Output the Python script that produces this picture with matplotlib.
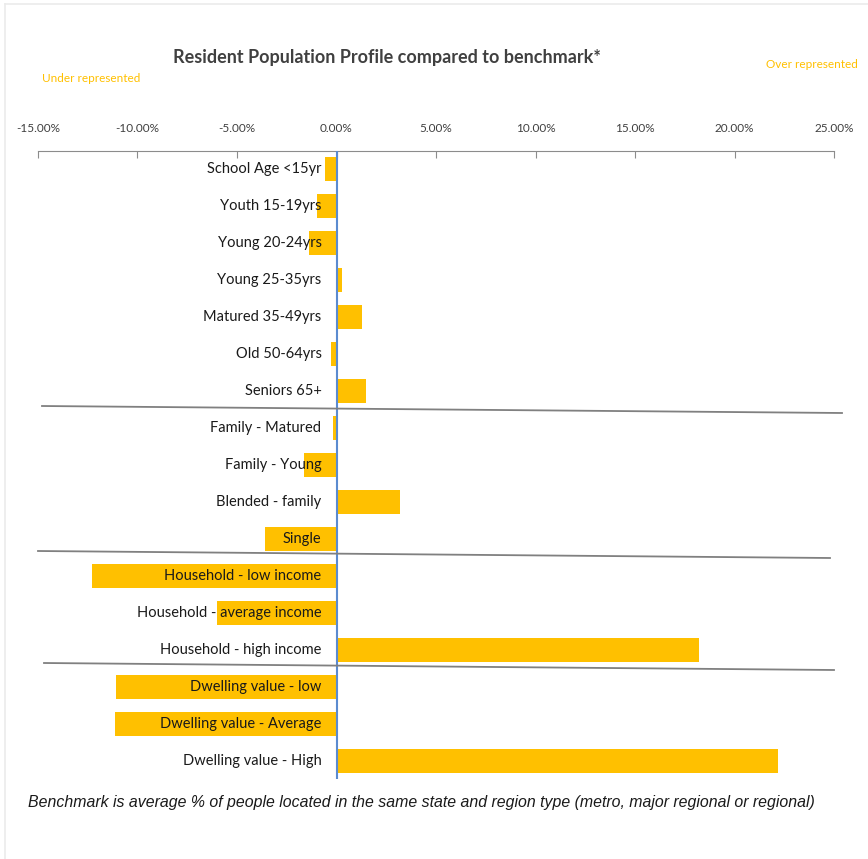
import matplotlib.pyplot as plt
from matplotlib.lines import Line2D
from matplotlib.ticker import FuncFormatter

# data (percent difference vs benchmark)
categories = ["School Age <15yr", "Youth 15-19yrs", "Young 20-24yrs", "Young 25-35yrs",
              "Matured 35-49yrs", "Old 50-64yrs", "Seniors 65+",
              "Family - Matured", "Family - Young", "Blended - family", "Single",
              "Household - low income", "Household - average income", "Household - high income",
              "Dwelling value - low", "Dwelling value - Average", "Dwelling value - High"]
values = [-0.6, -1.0, -1.4, 0.3, 1.3, -0.3, 1.5,
          -0.2, -1.65, 3.2, -3.6,
          -12.3, -6.0, 18.2,
          -11.1, -11.15, 22.2]
xticks = [-15, -10, -5, 0, 5, 10, 15, 20, 25]

plt.rcParams['font.family'] = ['Lato', 'DejaVu Sans']

fig = plt.figure(figsize=(8.68, 8.59), dpi=100)
ax = fig.add_axes([38/868, 1-779/859, 796/868, 628/859])

ypos = list(range(len(categories)))
ax.barh(ypos, values, height=0.65, color='#FFC000', zorder=2)
ax.set_ylim(len(categories)-0.5, -0.5)
ax.set_xlim(-15, 25)

ax.xaxis.tick_top()
ax.set_xticks(xticks)
ax.xaxis.set_major_formatter(FuncFormatter(lambda v, p: f"{v:.2f}%"))
ax.tick_params(axis='x', direction='in', length=5, color='#8c8c8c', pad=12,
               labelsize=8.5, labelcolor='#404040')
ax.set_yticks([])
for s in ['left', 'right', 'bottom']:
    ax.spines[s].set_visible(False)
ax.spines['top'].set_color('#8c8c8c')
ax.axvline(0, color='#5B8BD0', lw=1.5, zorder=3)

for y, name in zip(ypos, categories):
    ax.annotate(name, xy=(0, y), xytext=(-15, 0), textcoords='offset pixels',
                ha='right', va='center', fontsize=10.5, color='#1a1a1a', zorder=4)

# group separators
for (x0, y0, x1, y1) in [(42, 406, 842, 413), (38, 551, 830, 558), (44, 663, 834, 670)]:
    fig.add_artist(Line2D([x0/868, x1/868], [1-y0/859, 1-y1/859],
                          transform=fig.transFigure, color='#808080', lw=1.3))

# faint frame edges (top and left only)
fig.add_artist(Line2D([5/868, 1], [1-4/859, 1-4/859], transform=fig.transFigure,
                      color='#ebebeb', lw=1.2))
fig.add_artist(Line2D([5/868, 5/868], [0, 1-4/859], transform=fig.transFigure,
                      color='#ebebeb', lw=1.2))

fig.text(387/868, 1-57/859, "Resident Population Profile compared to benchmark*",
         ha='center', va='center', fontsize=13, fontweight='bold', color='#404040')
fig.text(42/868, 1-78/859, "Under represented", ha='left', va='center',
         fontsize=8.5, color='#FFC000')
fig.text(858/868, 1-65/859, "Over represented", ha='right', va='center',
         fontsize=8.5, color='#FFC000')
fig.text(28/868, 1-802/859,
         "Benchmark is average % of people located in the same state and region type (metro, major regional or regional)",
         ha='left', va='center', fontsize=11.4, style='italic', color='#1a1a1a',
         family=['Liberation Sans', 'DejaVu Sans'])

fig.savefig('out.png', dpi=100)
